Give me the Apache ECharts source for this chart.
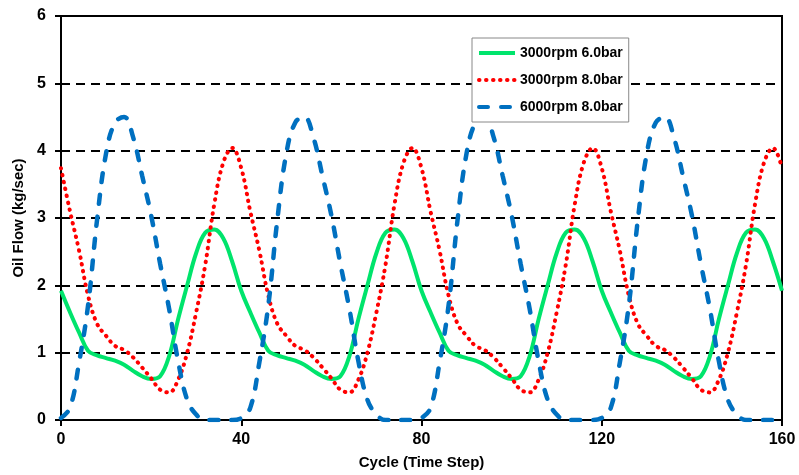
<!DOCTYPE html>
<html>
<head>
<meta charset="utf-8">
<script src="https://cdn.jsdelivr.net/npm/echarts@6/dist/echarts.min.js"></script>
<style>
    html, body { margin: 0; padding: 0; background: #fff; }
    #chart { width: 799px; height: 475px; }
</style>
</head>
<body>
<div id="chart"></div>
<script>
// cycle steps (x)
var cycles = [];
for (var c = 0; c <= 160; c += 2) cycles.push(c);

// 3000rpm 6.0bar
var flow3000_6 = [
    1.92, 1.6, 1.3, 1.03, 0.96, 0.92, 0.88, 0.82, 0.73, 0.65, 0.61, 0.65, 0.95, 1.5, 2.0, 2.48, 2.78, 2.83, 2.7, 2.35,
    1.92, 1.6, 1.3, 1.03, 0.96, 0.92, 0.88, 0.82, 0.73, 0.65, 0.61, 0.65, 0.95, 1.5, 2.0, 2.48, 2.78, 2.83, 2.7, 2.35,
    1.92, 1.6, 1.3, 1.03, 0.96, 0.92, 0.88, 0.82, 0.73, 0.65, 0.61, 0.65, 0.95, 1.5, 2.0, 2.48, 2.78, 2.83, 2.7, 2.35,
    1.92, 1.6, 1.3, 1.03, 0.96, 0.92, 0.88, 0.82, 0.73, 0.65, 0.61, 0.65, 0.95, 1.5, 2.0, 2.48, 2.78, 2.83, 2.7, 2.35,
    1.92
];
// 3000rpm 8.0bar
var flow3000_8 = [
    3.74, 3.1, 2.52, 1.85, 1.43, 1.25, 1.1, 1.04, 0.93, 0.78, 0.62, 0.45, 0.41, 0.6, 1.0, 1.6, 2.3, 3.2, 3.82, 4.04,
    3.74, 3.1, 2.52, 1.85, 1.43, 1.25, 1.1, 1.04, 0.93, 0.78, 0.62, 0.45, 0.41, 0.6, 1.0, 1.6, 2.3, 3.2, 3.82, 4.04,
    3.74, 3.1, 2.52, 1.85, 1.43, 1.25, 1.1, 1.04, 0.93, 0.78, 0.62, 0.45, 0.41, 0.6, 1.0, 1.6, 2.3, 3.2, 3.82, 4.04,
    3.74, 3.1, 2.52, 1.85, 1.43, 1.25, 1.1, 1.04, 0.93, 0.78, 0.62, 0.45, 0.41, 0.6, 1.0, 1.6, 2.3, 3.2, 3.82, 4.04,
    3.74
];
// 6000rpm 8.0bar
var flow6000_8 = [
    0.03, 0.18, 0.85, 1.7, 2.97, 3.96, 4.42, 4.5, 4.2, 3.63, 3.04, 2.32, 1.65, 0.87, 0.3, 0.08, 0, 0, 0, 0,
    0.03, 0.18, 0.85, 1.7, 2.97, 3.96, 4.42, 4.5, 4.2, 3.63, 3.04, 2.32, 1.65, 0.87, 0.3, 0.08, 0, 0, 0, 0,
    0.03, 0.18, 0.85, 1.7, 2.97, 3.96, 4.42, 4.5, 4.2, 3.63, 3.04, 2.32, 1.65, 0.87, 0.3, 0.08, 0, 0, 0, 0,
    0.03, 0.18, 0.85, 1.7, 2.97, 3.96, 4.42, 4.5, 4.2, 3.63, 3.04, 2.32, 1.65, 0.87, 0.3, 0.08, 0, 0, 0, 0,
    0.03
];

function pairs(vals) {
    return cycles.map(function (x, i) { return [x, vals[i]]; });
}

var myChart = echarts.init(document.getElementById('chart'));
var font = 'Liberation Sans';
var option = {
    animation: false,
    backgroundColor: '#fff',
    grid: {
        left: 61, right: 17, top: 16, bottom: 50,
        show: true,
        borderColor: '#000',
        borderWidth: 2
    },
    legend: {
        orient: 'vertical',
        left: 472,
        top: 38,
        padding: [8, 6, 8, 5],
        itemWidth: 36,
        itemHeight: 14,
        itemGap: 13,
        itemStyle: { opacity: 0 },
        lineStyle: { width: 4 },
        backgroundColor: '#fff',
        borderColor: '#888',
        borderWidth: 1,
        textStyle: { fontFamily: font, fontSize: 14, fontWeight: 'bold', color: '#000' }
    },
    xAxis: {
        type: 'value',
        min: 0,
        max: 160,
        interval: 40,
        name: 'Cycle (Time Step)',
        nameLocation: 'middle',
        nameGap: 35,
        nameTextStyle: { fontFamily: font, fontSize: 15, fontWeight: 'bold', color: '#000' },
        axisLine: { lineStyle: { color: '#000', width: 2 } },
        axisTick: { show: true, length: 6, lineStyle: { color: '#000', width: 2 } },
        axisLabel: { margin: 12, fontFamily: font, fontSize: 16, fontWeight: 'bold', color: '#000' },
        splitLine: { show: false }
    },
    yAxis: {
        type: 'value',
        min: 0,
        max: 6,
        interval: 1,
        name: 'Oil Flow (kg/sec)',
        nameLocation: 'middle',
        nameGap: 33,
        nameTextStyle: { fontFamily: font, fontSize: 15, fontWeight: 'bold', color: '#000' },
        axisLine: { show: true, lineStyle: { color: '#000', width: 2 } },
        axisTick: { show: true, length: 6, lineStyle: { color: '#000', width: 2 } },
        axisLabel: { margin: 15, fontFamily: font, fontSize: 16, fontWeight: 'bold', color: '#000' },
        splitLine: { show: true, lineStyle: { color: '#000', width: 2, type: [9, 6] } }
    },
    series: [
        {
            name: '3000rpm 6.0bar',
            type: 'line',
            data: pairs(flow3000_6),
            smooth: 0.4,
            symbol: 'none',
            color: '#00E46C',
            lineStyle: { color: '#00E46C', width: 4 }
        },
        {
            name: '3000rpm 8.0bar',
            type: 'line',
            data: pairs(flow3000_8),
            smooth: 0.4,
            symbol: 'none',
            color: '#FF0000',
            lineStyle: { color: '#FF0000', width: 4, type: [0.5, 6.5], cap: 'round' }
        },
        {
            name: '6000rpm 8.0bar',
            type: 'line',
            data: pairs(flow6000_8),
            smooth: 0.4,
            symbol: 'none',
            color: '#0070C0',
            lineStyle: { color: '#0070C0', width: 4.5, type: [9, 13], cap: 'round' }
        }
    ]
};
option && myChart.setOption(option);
</script>
</body>
</html>
